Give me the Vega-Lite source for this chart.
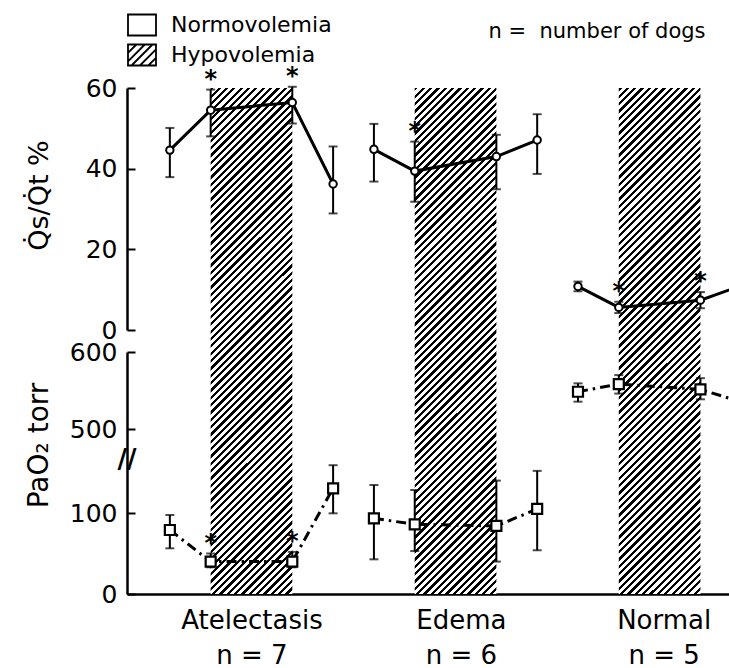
{
  "$schema": "https://vega.github.io/schema/vega-lite/v6.json",
  "width": 602,
  "height": 506,
  "autosize": {"type": "none"},
  "padding": {"left": 127, "top": 88, "right": 0, "bottom": 74},
  "background": "white",
  "config": {
    "font": "DejaVu Sans",
    "view": {"stroke": null},
    "axis": {"grid": false, "domainColor": "black", "domainWidth": 2.5, "tickColor": "black", "tickWidth": 2, "labelColor": "black", "titleColor": "black", "labelFontWeight": "normal", "titleFontWeight": "normal"}
  },
  "datasets": {
    "hypo": [
      {"group": "Atelectasis", "phase": "Hypovolemia", "start": 1, "end": 3},
      {"group": "Edema", "phase": "Hypovolemia", "start": 6, "end": 8},
      {"group": "Normal", "phase": "Hypovolemia", "start": 11, "end": 13}
    ],
    "qs": [
      {"group": "Atelectasis", "t": 0, "mean": 44.6, "lo": 37.9, "hi": 50.1, "sig": false},
      {"group": "Atelectasis", "t": 1, "mean": 54.5, "lo": 48.0, "hi": 59.6, "sig": true},
      {"group": "Atelectasis", "t": 3, "mean": 56.4, "lo": 51.2, "hi": 60.3, "sig": true},
      {"group": "Atelectasis", "t": 4, "mean": 36.2, "lo": 28.9, "hi": 45.5, "sig": false},
      {"group": "Edema", "t": 5, "mean": 44.8, "lo": 36.8, "hi": 51.1, "sig": false},
      {"group": "Edema", "t": 6, "mean": 39.4, "lo": 31.8, "hi": 46.7, "sig": true},
      {"group": "Edema", "t": 8, "mean": 43.0, "lo": 34.9, "hi": 48.4, "sig": false},
      {"group": "Edema", "t": 9, "mean": 47.1, "lo": 38.7, "hi": 53.5, "sig": false},
      {"group": "Normal", "t": 10, "mean": 10.8, "lo": 9.6, "hi": 12.0, "sig": false},
      {"group": "Normal", "t": 11, "mean": 5.6, "lo": 4.2, "hi": 7.0, "sig": true},
      {"group": "Normal", "t": 13, "mean": 7.4, "lo": 5.4, "hi": 9.4, "sig": true},
      {"group": "Normal", "t": 14, "mean": 11.0, "lo": null, "hi": null, "sig": false}
    ],
    "pao2": [
      {"group": "Atelectasis", "t": 0, "mean": 79, "lo": 56.4, "hi": 97.5, "sig": false},
      {"group": "Atelectasis", "t": 1, "mean": 40, "lo": 33, "hi": 50, "sig": true},
      {"group": "Atelectasis", "t": 3, "mean": 40, "lo": 33, "hi": 52, "sig": true},
      {"group": "Atelectasis", "t": 4, "mean": 130.5, "lo": 99.6, "hi": 159, "sig": false},
      {"group": "Edema", "t": 5, "mean": 93.4, "lo": 42.8, "hi": 134.6, "sig": false},
      {"group": "Edema", "t": 6, "mean": 86, "lo": 53, "hi": 128.4, "sig": false},
      {"group": "Edema", "t": 8, "mean": 84, "lo": 40, "hi": 140, "sig": false},
      {"group": "Edema", "t": 9, "mean": 105, "lo": 54, "hi": 152, "sig": false},
      {"group": "Normal", "t": 10, "mean": 548.4, "lo": 535.5, "hi": 559.3, "sig": false},
      {"group": "Normal", "t": 11, "mean": 558.4, "lo": 546, "hi": 570, "sig": false},
      {"group": "Normal", "t": 13, "mean": 551.5, "lo": 538.6, "hi": 566, "sig": false},
      {"group": "Normal", "t": 14, "mean": 535, "lo": null, "hi": null, "sig": false}
    ]
  },
  "layer": [
    {
      "data": {"name": "hypo"},
      "mark": {
        "type": "rect",
        "strokeWidth": 0,
        "fill": {
          "gradient": "linear", "x1": 0, "y1": 0, "x2": 0.18252, "y2": 1.13183,
          "stops": [
            {"offset":0,"color":"#000"},{"offset":0.0055,"color":"#000"},{"offset":0.0055,"color":"#fff"},{"offset":0.0125,"color":"#fff"},
            {"offset":0.0125,"color":"#000"},{"offset":0.018,"color":"#000"},{"offset":0.018,"color":"#fff"},{"offset":0.025,"color":"#fff"},
            {"offset":0.025,"color":"#000"},{"offset":0.0305,"color":"#000"},{"offset":0.0305,"color":"#fff"},{"offset":0.0375,"color":"#fff"},
            {"offset":0.0375,"color":"#000"},{"offset":0.043,"color":"#000"},{"offset":0.043,"color":"#fff"},{"offset":0.05,"color":"#fff"},
            {"offset":0.05,"color":"#000"},{"offset":0.0555,"color":"#000"},{"offset":0.0555,"color":"#fff"},{"offset":0.0625,"color":"#fff"},
            {"offset":0.0625,"color":"#000"},{"offset":0.068,"color":"#000"},{"offset":0.068,"color":"#fff"},{"offset":0.075,"color":"#fff"},
            {"offset":0.075,"color":"#000"},{"offset":0.0805,"color":"#000"},{"offset":0.0805,"color":"#fff"},{"offset":0.0875,"color":"#fff"},
            {"offset":0.0875,"color":"#000"},{"offset":0.093,"color":"#000"},{"offset":0.093,"color":"#fff"},{"offset":0.1,"color":"#fff"},
            {"offset":0.1,"color":"#000"},{"offset":0.1055,"color":"#000"},{"offset":0.1055,"color":"#fff"},{"offset":0.1125,"color":"#fff"},
            {"offset":0.1125,"color":"#000"},{"offset":0.118,"color":"#000"},{"offset":0.118,"color":"#fff"},{"offset":0.125,"color":"#fff"},
            {"offset":0.125,"color":"#000"},{"offset":0.1305,"color":"#000"},{"offset":0.1305,"color":"#fff"},{"offset":0.1375,"color":"#fff"},
            {"offset":0.1375,"color":"#000"},{"offset":0.143,"color":"#000"},{"offset":0.143,"color":"#fff"},{"offset":0.15,"color":"#fff"},
            {"offset":0.15,"color":"#000"},{"offset":0.1555,"color":"#000"},{"offset":0.1555,"color":"#fff"},{"offset":0.1625,"color":"#fff"},
            {"offset":0.1625,"color":"#000"},{"offset":0.168,"color":"#000"},{"offset":0.168,"color":"#fff"},{"offset":0.175,"color":"#fff"},
            {"offset":0.175,"color":"#000"},{"offset":0.1805,"color":"#000"},{"offset":0.1805,"color":"#fff"},{"offset":0.1875,"color":"#fff"},
            {"offset":0.1875,"color":"#000"},{"offset":0.193,"color":"#000"},{"offset":0.193,"color":"#fff"},{"offset":0.2,"color":"#fff"},
            {"offset":0.2,"color":"#000"},{"offset":0.2055,"color":"#000"},{"offset":0.2055,"color":"#fff"},{"offset":0.2125,"color":"#fff"},
            {"offset":0.2125,"color":"#000"},{"offset":0.218,"color":"#000"},{"offset":0.218,"color":"#fff"},{"offset":0.225,"color":"#fff"},
            {"offset":0.225,"color":"#000"},{"offset":0.2305,"color":"#000"},{"offset":0.2305,"color":"#fff"},{"offset":0.2375,"color":"#fff"},
            {"offset":0.2375,"color":"#000"},{"offset":0.243,"color":"#000"},{"offset":0.243,"color":"#fff"},{"offset":0.25,"color":"#fff"},
            {"offset":0.25,"color":"#000"},{"offset":0.2555,"color":"#000"},{"offset":0.2555,"color":"#fff"},{"offset":0.2625,"color":"#fff"},
            {"offset":0.2625,"color":"#000"},{"offset":0.268,"color":"#000"},{"offset":0.268,"color":"#fff"},{"offset":0.275,"color":"#fff"},
            {"offset":0.275,"color":"#000"},{"offset":0.2805,"color":"#000"},{"offset":0.2805,"color":"#fff"},{"offset":0.2875,"color":"#fff"},
            {"offset":0.2875,"color":"#000"},{"offset":0.293,"color":"#000"},{"offset":0.293,"color":"#fff"},{"offset":0.3,"color":"#fff"},
            {"offset":0.3,"color":"#000"},{"offset":0.3055,"color":"#000"},{"offset":0.3055,"color":"#fff"},{"offset":0.3125,"color":"#fff"},
            {"offset":0.3125,"color":"#000"},{"offset":0.318,"color":"#000"},{"offset":0.318,"color":"#fff"},{"offset":0.325,"color":"#fff"},
            {"offset":0.325,"color":"#000"},{"offset":0.3305,"color":"#000"},{"offset":0.3305,"color":"#fff"},{"offset":0.3375,"color":"#fff"},
            {"offset":0.3375,"color":"#000"},{"offset":0.343,"color":"#000"},{"offset":0.343,"color":"#fff"},{"offset":0.35,"color":"#fff"},
            {"offset":0.35,"color":"#000"},{"offset":0.3555,"color":"#000"},{"offset":0.3555,"color":"#fff"},{"offset":0.3625,"color":"#fff"},
            {"offset":0.3625,"color":"#000"},{"offset":0.368,"color":"#000"},{"offset":0.368,"color":"#fff"},{"offset":0.375,"color":"#fff"},
            {"offset":0.375,"color":"#000"},{"offset":0.3805,"color":"#000"},{"offset":0.3805,"color":"#fff"},{"offset":0.3875,"color":"#fff"},
            {"offset":0.3875,"color":"#000"},{"offset":0.393,"color":"#000"},{"offset":0.393,"color":"#fff"},{"offset":0.4,"color":"#fff"},
            {"offset":0.4,"color":"#000"},{"offset":0.4055,"color":"#000"},{"offset":0.4055,"color":"#fff"},{"offset":0.4125,"color":"#fff"},
            {"offset":0.4125,"color":"#000"},{"offset":0.418,"color":"#000"},{"offset":0.418,"color":"#fff"},{"offset":0.425,"color":"#fff"},
            {"offset":0.425,"color":"#000"},{"offset":0.4305,"color":"#000"},{"offset":0.4305,"color":"#fff"},{"offset":0.4375,"color":"#fff"},
            {"offset":0.4375,"color":"#000"},{"offset":0.443,"color":"#000"},{"offset":0.443,"color":"#fff"},{"offset":0.45,"color":"#fff"},
            {"offset":0.45,"color":"#000"},{"offset":0.4555,"color":"#000"},{"offset":0.4555,"color":"#fff"},{"offset":0.4625,"color":"#fff"},
            {"offset":0.4625,"color":"#000"},{"offset":0.468,"color":"#000"},{"offset":0.468,"color":"#fff"},{"offset":0.475,"color":"#fff"},
            {"offset":0.475,"color":"#000"},{"offset":0.4805,"color":"#000"},{"offset":0.4805,"color":"#fff"},{"offset":0.4875,"color":"#fff"},
            {"offset":0.4875,"color":"#000"},{"offset":0.493,"color":"#000"},{"offset":0.493,"color":"#fff"},{"offset":0.5,"color":"#fff"},
            {"offset":0.5,"color":"#000"},{"offset":0.5055,"color":"#000"},{"offset":0.5055,"color":"#fff"},{"offset":0.5125,"color":"#fff"},
            {"offset":0.5125,"color":"#000"},{"offset":0.518,"color":"#000"},{"offset":0.518,"color":"#fff"},{"offset":0.525,"color":"#fff"},
            {"offset":0.525,"color":"#000"},{"offset":0.5305,"color":"#000"},{"offset":0.5305,"color":"#fff"},{"offset":0.5375,"color":"#fff"},
            {"offset":0.5375,"color":"#000"},{"offset":0.543,"color":"#000"},{"offset":0.543,"color":"#fff"},{"offset":0.55,"color":"#fff"},
            {"offset":0.55,"color":"#000"},{"offset":0.5555,"color":"#000"},{"offset":0.5555,"color":"#fff"},{"offset":0.5625,"color":"#fff"},
            {"offset":0.5625,"color":"#000"},{"offset":0.568,"color":"#000"},{"offset":0.568,"color":"#fff"},{"offset":0.575,"color":"#fff"},
            {"offset":0.575,"color":"#000"},{"offset":0.5805,"color":"#000"},{"offset":0.5805,"color":"#fff"},{"offset":0.5875,"color":"#fff"},
            {"offset":0.5875,"color":"#000"},{"offset":0.593,"color":"#000"},{"offset":0.593,"color":"#fff"},{"offset":0.6,"color":"#fff"},
            {"offset":0.6,"color":"#000"},{"offset":0.6055,"color":"#000"},{"offset":0.6055,"color":"#fff"},{"offset":0.6125,"color":"#fff"},
            {"offset":0.6125,"color":"#000"},{"offset":0.618,"color":"#000"},{"offset":0.618,"color":"#fff"},{"offset":0.625,"color":"#fff"},
            {"offset":0.625,"color":"#000"},{"offset":0.6305,"color":"#000"},{"offset":0.6305,"color":"#fff"},{"offset":0.6375,"color":"#fff"},
            {"offset":0.6375,"color":"#000"},{"offset":0.643,"color":"#000"},{"offset":0.643,"color":"#fff"},{"offset":0.65,"color":"#fff"},
            {"offset":0.65,"color":"#000"},{"offset":0.6555,"color":"#000"},{"offset":0.6555,"color":"#fff"},{"offset":0.6625,"color":"#fff"},
            {"offset":0.6625,"color":"#000"},{"offset":0.668,"color":"#000"},{"offset":0.668,"color":"#fff"},{"offset":0.675,"color":"#fff"},
            {"offset":0.675,"color":"#000"},{"offset":0.6805,"color":"#000"},{"offset":0.6805,"color":"#fff"},{"offset":0.6875,"color":"#fff"},
            {"offset":0.6875,"color":"#000"},{"offset":0.693,"color":"#000"},{"offset":0.693,"color":"#fff"},{"offset":0.7,"color":"#fff"},
            {"offset":0.7,"color":"#000"},{"offset":0.7055,"color":"#000"},{"offset":0.7055,"color":"#fff"},{"offset":0.7125,"color":"#fff"},
            {"offset":0.7125,"color":"#000"},{"offset":0.718,"color":"#000"},{"offset":0.718,"color":"#fff"},{"offset":0.725,"color":"#fff"},
            {"offset":0.725,"color":"#000"},{"offset":0.7305,"color":"#000"},{"offset":0.7305,"color":"#fff"},{"offset":0.7375,"color":"#fff"},
            {"offset":0.7375,"color":"#000"},{"offset":0.743,"color":"#000"},{"offset":0.743,"color":"#fff"},{"offset":0.75,"color":"#fff"},
            {"offset":0.75,"color":"#000"},{"offset":0.7555,"color":"#000"},{"offset":0.7555,"color":"#fff"},{"offset":0.7625,"color":"#fff"},
            {"offset":0.7625,"color":"#000"},{"offset":0.768,"color":"#000"},{"offset":0.768,"color":"#fff"},{"offset":0.775,"color":"#fff"},
            {"offset":0.775,"color":"#000"},{"offset":0.7805,"color":"#000"},{"offset":0.7805,"color":"#fff"},{"offset":0.7875,"color":"#fff"},
            {"offset":0.7875,"color":"#000"},{"offset":0.793,"color":"#000"},{"offset":0.793,"color":"#fff"},{"offset":0.8,"color":"#fff"},
            {"offset":0.8,"color":"#000"},{"offset":0.8055,"color":"#000"},{"offset":0.8055,"color":"#fff"},{"offset":0.8125,"color":"#fff"},
            {"offset":0.8125,"color":"#000"},{"offset":0.818,"color":"#000"},{"offset":0.818,"color":"#fff"},{"offset":0.825,"color":"#fff"},
            {"offset":0.825,"color":"#000"},{"offset":0.8305,"color":"#000"},{"offset":0.8305,"color":"#fff"},{"offset":0.8375,"color":"#fff"},
            {"offset":0.8375,"color":"#000"},{"offset":0.843,"color":"#000"},{"offset":0.843,"color":"#fff"},{"offset":0.85,"color":"#fff"},
            {"offset":0.85,"color":"#000"},{"offset":0.8555,"color":"#000"},{"offset":0.8555,"color":"#fff"},{"offset":0.8625,"color":"#fff"},
            {"offset":0.8625,"color":"#000"},{"offset":0.868,"color":"#000"},{"offset":0.868,"color":"#fff"},{"offset":0.875,"color":"#fff"},
            {"offset":0.875,"color":"#000"},{"offset":0.8805,"color":"#000"},{"offset":0.8805,"color":"#fff"},{"offset":0.8875,"color":"#fff"},
            {"offset":0.8875,"color":"#000"},{"offset":0.893,"color":"#000"},{"offset":0.893,"color":"#fff"},{"offset":0.9,"color":"#fff"},
            {"offset":0.9,"color":"#000"},{"offset":0.9055,"color":"#000"},{"offset":0.9055,"color":"#fff"},{"offset":0.9125,"color":"#fff"},
            {"offset":0.9125,"color":"#000"},{"offset":0.918,"color":"#000"},{"offset":0.918,"color":"#fff"},{"offset":0.925,"color":"#fff"},
            {"offset":0.925,"color":"#000"},{"offset":0.9305,"color":"#000"},{"offset":0.9305,"color":"#fff"},{"offset":0.9375,"color":"#fff"},
            {"offset":0.9375,"color":"#000"},{"offset":0.943,"color":"#000"},{"offset":0.943,"color":"#fff"},{"offset":0.95,"color":"#fff"},
            {"offset":0.95,"color":"#000"},{"offset":0.9555,"color":"#000"},{"offset":0.9555,"color":"#fff"},{"offset":0.9625,"color":"#fff"},
            {"offset":0.9625,"color":"#000"},{"offset":0.968,"color":"#000"},{"offset":0.968,"color":"#fff"},{"offset":0.975,"color":"#fff"},
            {"offset":0.975,"color":"#000"},{"offset":0.9805,"color":"#000"},{"offset":0.9805,"color":"#fff"},{"offset":0.9875,"color":"#fff"},
            {"offset":0.9875,"color":"#000"},{"offset":0.993,"color":"#000"},{"offset":0.993,"color":"#fff"},{"offset":1,"color":"#fff"}
          ]
        }
      },
      "encoding": {
        "x": {
          "field": "start", "type": "quantitative", "title": null,
          "scale": {"domain": [-1.05, 13.7], "nice": false, "zero": false},
          "axis": {
            "orient": "bottom",
            "values": [2, 7.13, 12.1],
            "labelExpr": "datum.value < 4 ? ['Atelectasis', 'n = 7'] : (datum.value < 10 ? ['Edema', 'n = 6'] : ['Normal', 'n = 5'])",
            "ticks": false, "labelFontSize": 26, "labelLineHeight": 35, "labelPadding": 34,
            "labelBaseline": "alphabetic", "labelFlush": false, "labelOverlap": false, "labelBound": false,
            "domainWidth": 2.5
          }
        },
        "x2": {"field": "end"}
      }
    },
    {
      "data": {"name": "hypo"},
      "transform": [{"filter": "datum.start < 0"}],
      "mark": {"type": "point", "filled": false, "color": "black", "strokeWidth": 1.8, "opacity": 1},
      "encoding": {
        "x": {
          "field": "start", "type": "quantitative",
          "axis": {"orient": "top", "domain": false, "ticks": false, "labels": false, "grid": false, "title": "n = \u00a0number of dogs", "titleFontSize": 21, "titleX": 578, "titleY": -51, "titleAlign": "right", "titleBaseline": "alphabetic", "titleAngle": 0, "titleAnchor": null}
        },
        "shape": {
          "field": "phase", "type": "nominal",
          "scale": {
            "domain": ["Normovolemia", "Hypovolemia"],
            "range": ["M-1,-0.75H1V0.75H-1Z", "M-1,-0.75H1V0.75H-1Z M-1,-0.15L-0.4,-0.75 M-1,0.45L0.2,-0.75 M-0.75,0.75L0.75,-0.75 M-0.15,0.75L1,-0.4 M0.45,0.75L1,0.2"]
          },
          "legend": {
            "orient": "none", "legendX": 0, "legendY": -78, "title": null, "direction": "vertical",
            "symbolSize": 784, "symbolStrokeColor": "black", "symbolStrokeWidth": 1.8, "symbolOpacity": 1,
            "labelFontSize": 22, "labelColor": "black", "labelOffset": 14, "rowPadding": 0, "labelLimit": 400
          }
        }
      }
    },
    {
      "data": {"name": "qs"},
      "layer": [
        {
          "mark": {"type": "line", "color": "black", "strokeWidth": 3, "clip": true},
          "encoding": {
            "x": {"field": "t", "type": "quantitative", "axis": null},
            "y": {
              "field": "mean", "type": "quantitative", "title": "Q̇s/Q̇t %",
              "scale": {"domain": [0, 60], "range": [242, 0], "nice": false, "zero": false},
              "axis": {"orient": "left", "values": [0, 20, 40, 60], "tickSize": -8, "labelFontSize": 25, "labelPadding": 18, "titleFontSize": 27, "titleX": -80, "titleY": 107, "titleAngle": -90, "titleBaseline": "alphabetic", "titleAlign": "center"}
            },
            "detail": {"field": "group"}
          }
        },
        {
          "mark": {"type": "errorbar", "ticks": {"size": 9, "thickness": 2, "color": "black"}, "rule": {"strokeWidth": 2, "color": "black"}},
          "encoding": {
            "x": {"field": "t", "type": "quantitative", "axis": null},
            "y": {"field": "lo", "type": "quantitative", "title": "Q̇s/Q̇t %"},
            "y2": {"field": "hi"}
          }
        },
        {
          "mark": {"type": "point", "shape": "circle", "filled": true, "fill": "white", "stroke": "black", "strokeWidth": 2, "size": 55, "opacity": 1, "clip": true},
          "encoding": {
            "x": {"field": "t", "type": "quantitative", "axis": null},
            "y": {"field": "mean", "type": "quantitative", "title": "Q̇s/Q̇t %"}
          }
        },
        {
          "transform": [{"filter": "datum.sig"}],
          "mark": {"type": "text", "text": "*", "fontSize": 24, "fontWeight": "bold", "color": "black", "baseline": "alphabetic", "dy": -3},
          "encoding": {
            "x": {"field": "t", "type": "quantitative", "axis": null},
            "y": {"field": "hi", "type": "quantitative", "title": "Q̇s/Q̇t %"}
          }
        }
      ]
    },
    {
      "data": {"name": "pao2"},
      "layer": [
        {
          "mark": {"type": "line", "color": "black", "strokeWidth": 3, "strokeDash": [10, 5, 2.5, 5], "clip": true},
          "encoding": {
            "x": {"field": "t", "type": "quantitative", "axis": null},
            "y": {
              "field": "mean", "type": "quantitative", "title": "PaO₂ torr",
              "scale": {"domain": [0, 160, 465, 600], "range": [506, 376.4, 368, 264], "nice": false, "zero": false},
              "axis": {"orient": "left", "values": [0, 100, 500, 600], "tickSize": -8, "labelFontSize": 25, "labelPadding": 18, "titleFontSize": 28, "titleX": -80, "titleY": 357, "titleAngle": -90, "titleBaseline": "alphabetic", "titleAlign": "center"}
            },
            "detail": {"field": "group"}
          }
        },
        {
          "mark": {"type": "errorbar", "ticks": {"size": 9, "thickness": 2, "color": "black"}, "rule": {"strokeWidth": 2, "color": "black"}},
          "encoding": {
            "x": {"field": "t", "type": "quantitative", "axis": null},
            "y": {"field": "lo", "type": "quantitative", "title": "PaO₂ torr"},
            "y2": {"field": "hi"}
          }
        },
        {
          "mark": {"type": "point", "shape": "square", "filled": true, "fill": "white", "stroke": "black", "strokeWidth": 2.2, "size": 100, "opacity": 1, "clip": true},
          "encoding": {
            "x": {"field": "t", "type": "quantitative", "axis": null},
            "y": {"field": "mean", "type": "quantitative", "title": "PaO₂ torr"}
          }
        },
        {
          "transform": [{"filter": "datum.sig"}],
          "mark": {"type": "text", "text": "*", "fontSize": 24, "fontWeight": "bold", "color": "black", "baseline": "alphabetic", "dy": -3},
          "encoding": {
            "x": {"field": "t", "type": "quantitative", "axis": null},
            "y": {"field": "hi", "type": "quantitative", "title": "PaO₂ torr"}
          }
        },
        {
          "data": {"values": [{"label": "//"}]},
          "mark": {"type": "text", "fontSize": 26, "fontWeight": "bold", "color": "black", "baseline": "middle", "align": "center"},
          "encoding": {
            "text": {"field": "label"},
            "x": {"datum": -1.05, "type": "quantitative", "axis": null},
            "y": {"datum": 312, "type": "quantitative", "title": "PaO₂ torr"}
          }
        }
      ]
    }
  ],
  "resolve": {"scale": {"y": "independent"}, "axis": {"y": "independent", "x": "independent"}}
}
